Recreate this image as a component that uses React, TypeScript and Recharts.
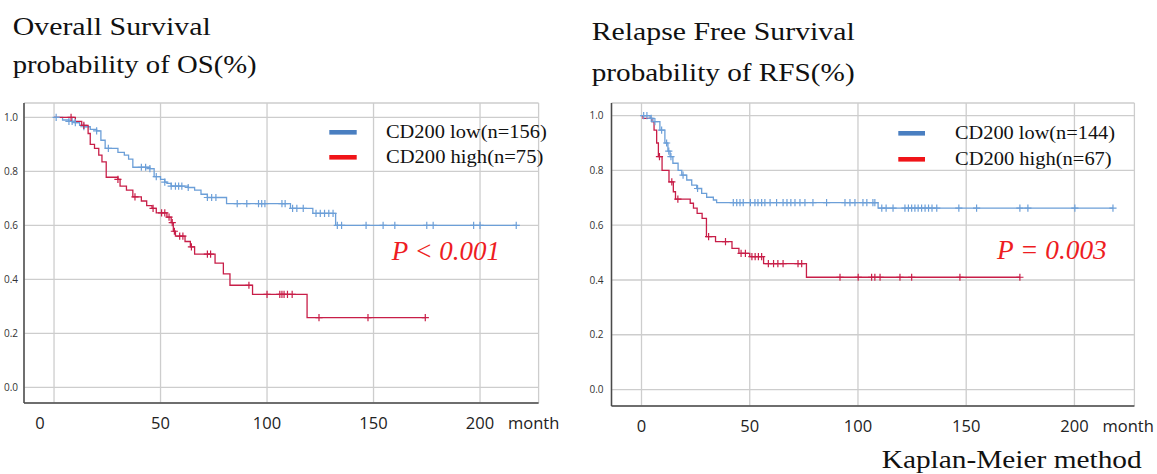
import React from 'react';
import { LineChart, Line, XAxis, YAxis, CartesianGrid } from 'recharts';

// ---- axis ticks ----
const X_TICKS = [0, 50, 100, 150, 200];
const Y_TICKS = [0, 0.2, 0.4, 0.6, 0.8, 1.0];

// ---- series: [month, survival, censored(1)/event(0)] ----
const OS_LOW: [number, number, number][] = [
  [0, 1, 0], [1, 1, 1], [4, 0.99, 0], [7, 0.985, 1], [8.5, 0.985, 1], [10, 0.98, 1], [12, 0.97, 0], [14, 0.965, 1],
  [17, 0.955, 0], [20, 0.95, 1], [22, 0.915, 0], [24, 0.885, 0], [25.5, 0.885, 1], [30, 0.87, 0], [33, 0.86, 0],
  [35, 0.845, 0], [37, 0.815, 0], [41, 0.815, 1], [43, 0.815, 1], [45, 0.81, 1], [47, 0.78, 0], [48, 0.78, 1],
  [50, 0.77, 0], [52, 0.76, 1], [53, 0.755, 0], [55, 0.745, 1], [57, 0.745, 1], [58.5, 0.745, 1], [60, 0.745, 1],
  [63, 0.74, 1], [66, 0.73, 0], [69, 0.715, 0], [72, 0.703, 1], [74, 0.703, 1], [76, 0.703, 1], [81, 0.68, 0],
  [86, 0.68, 1], [90.5, 0.68, 1], [96, 0.68, 1], [97.5, 0.68, 1], [99, 0.68, 1], [107, 0.68, 1], [108.5, 0.68, 1],
  [111, 0.663, 0], [112, 0.663, 1], [114, 0.663, 1], [117, 0.663, 1], [121.5, 0.644, 0], [123, 0.644, 1],
  [125, 0.644, 1], [127, 0.644, 1], [129, 0.644, 1], [131, 0.644, 1], [132.2, 0.6, 0], [133, 0.6, 1], [135, 0.6, 1],
  [146.5, 0.6, 1], [154.5, 0.6, 1], [160, 0.6, 1], [175, 0.6, 1], [178, 0.6, 1], [197, 0.6, 1], [200, 0.6, 1],
  [217, 0.6, 1],
];

const OS_HIGH: [number, number, number][] = [
  [0, 1, 0], [8, 1, 1], [10, 0.985, 0], [13, 0.97, 0], [14, 0.97, 1], [16, 0.94, 0], [17, 0.9, 0], [19, 0.885, 0],
  [21, 0.86, 0], [22.5, 0.835, 0], [24.5, 0.778, 0], [30, 0.77, 1], [31, 0.745, 0], [34, 0.73, 0], [37, 0.705, 0],
  [38, 0.705, 1], [41, 0.69, 0], [43.5, 0.673, 0], [46, 0.663, 0], [46.5, 0.663, 1], [48, 0.646, 0], [50.5, 0.646, 1],
  [52, 0.646, 1], [53, 0.63, 0], [54, 0.63, 1], [55, 0.61, 0], [55.5, 0.61, 1], [56, 0.578, 0], [56.5, 0.578, 1],
  [57, 0.56, 0], [59, 0.56, 1], [60.5, 0.56, 1], [61.5, 0.54, 0], [64, 0.52, 0], [64.5, 0.52, 1], [66, 0.493, 0],
  [72, 0.493, 1], [73.5, 0.493, 1], [75.6, 0.46, 0], [79.5, 0.42, 0], [82.6, 0.378, 0], [91.5, 0.378, 1],
  [93.2, 0.344, 0], [100, 0.344, 1], [106, 0.344, 1], [107, 0.344, 1], [108, 0.344, 1], [109.6, 0.344, 1],
  [111.8, 0.344, 1], [118.8, 0.258, 0], [124.4, 0.258, 1], [147.4, 0.258, 1], [174.3, 0.258, 1],
];

const RFS_LOW: [number, number, number][] = [
  [0, 1, 0], [1, 1, 1], [2.5, 1, 1], [4, 0.99, 0], [4.5, 0.99, 1], [5.3, 0.978, 0], [6.2, 0.978, 1], [8.5, 0.947, 0],
  [9.3, 0.947, 1], [10.8, 0.9, 0], [11.6, 0.9, 1], [12.2, 0.87, 0], [12.6, 0.87, 1], [13.2, 0.85, 0], [13.6, 0.85, 1],
  [14.5, 0.826, 0], [16.9, 0.8, 0], [18.6, 0.783, 0], [19.2, 0.783, 1], [20.9, 0.765, 0], [23.2, 0.746, 0],
  [25.5, 0.734, 0], [25.9, 0.734, 1], [27.8, 0.716, 0], [30.1, 0.702, 0], [33.2, 0.692, 0], [34.7, 0.682, 0],
  [42.4, 0.682, 1], [44, 0.682, 1], [45.5, 0.682, 1], [47, 0.682, 1], [50.3, 0.682, 1], [52.4, 0.682, 1],
  [53.8, 0.682, 1], [55.5, 0.682, 1], [57, 0.682, 1], [59.4, 0.682, 1], [62.4, 0.682, 1], [65.4, 0.682, 1],
  [67.2, 0.682, 1], [69, 0.682, 1], [70.9, 0.682, 1], [73.2, 0.682, 1], [75.5, 0.682, 1], [79.2, 0.682, 1],
  [85.5, 0.682, 1], [94, 0.682, 1], [96.3, 0.682, 1], [98.6, 0.682, 1], [102.3, 0.682, 1], [104.1, 0.682, 1],
  [106.9, 0.682, 1], [107.8, 0.682, 1], [109.3, 0.662, 0], [111, 0.662, 1], [113, 0.662, 1], [116.2, 0.662, 1],
  [121.7, 0.662, 1], [123.3, 0.662, 1], [124.8, 0.662, 1], [126.3, 0.662, 1], [127.8, 0.662, 1], [129.4, 0.662, 1],
  [131, 0.662, 1], [132.6, 0.662, 1], [134.2, 0.662, 1], [136.4, 0.662, 1], [146.6, 0.662, 1], [154.8, 0.662, 1],
  [174.8, 0.662, 1], [178.5, 0.662, 1], [200.2, 0.662, 1], [217.8, 0.662, 1],
];

const RFS_HIGH: [number, number, number][] = [
  [0, 1, 0], [0.7, 0.99, 0], [4.7, 0.978, 0], [5.8, 0.947, 0], [7, 0.9, 0], [7.8, 0.85, 0], [8.3, 0.85, 1],
  [9.5, 0.8, 0], [12.7, 0.758, 0], [14, 0.758, 1], [14.7, 0.722, 0], [15.7, 0.695, 0], [16.8, 0.695, 1],
  [22.5, 0.68, 0], [24, 0.662, 0], [25.7, 0.643, 0], [28, 0.625, 0], [30, 0.558, 0], [31, 0.558, 1], [34.2, 0.54, 0],
  [38.8, 0.54, 1], [41.8, 0.515, 0], [45, 0.497, 0], [46, 0.497, 1], [48, 0.497, 1], [50, 0.485, 0], [51, 0.485, 1],
  [52.5, 0.485, 1], [54, 0.485, 1], [55.5, 0.485, 1], [56.4, 0.46, 0], [58.6, 0.46, 1], [61, 0.46, 1], [63, 0.46, 1],
  [65.4, 0.46, 1], [72.3, 0.46, 1], [74, 0.46, 1], [76.2, 0.41, 0], [91.7, 0.41, 1], [100.1, 0.41, 1],
  [106.3, 0.41, 1], [107.8, 0.41, 1], [110.2, 0.41, 1], [119.4, 0.41, 1], [124.8, 0.41, 1], [147.1, 0.41, 1],
  [174.8, 0.41, 1],
];

const LEGEND_OS = ['CD200 low(n=156)', 'CD200 high(n=75)'];
const LEGEND_RFS = ['CD200 low(n=144)', 'CD200 high(n=67)'];

// ---- styles ----
const BLUE = '#6c9fd8';
const RED = '#c81e48';
const SW_BLUE = '#4a7fc1';
const SW_RED = '#f01418';
const P_RED = '#ee1c22';
const GRID = '#cdcdcd';
const AXIS = '#4a4a4a';
const SERIF = '"Liberation Serif", "Times New Roman", serif';
const SANS = '"Open Sans", "Noto Sans", sans-serif';

const toPts = (arr: [number, number, number][]) => arr.map(([t, s, c]) => ({ t, s, c }));

const censorDot = (color: string) => (props: any) => {
  const { cx, cy, payload, index } = props;
  if (!payload || !payload.c || cx == null || cy == null) return <g key={'n' + index} />;
  const h = 3.6;
  return (
    <path
      key={'c' + index}
      d={`M${cx - h},${cy}H${cx + h}M${cx},${cy - h}V${cy + h}`}
      stroke={color}
      strokeWidth={1.2}
      fill="none"
    />
  );
};

const makeXTick = (zeroShift: number) => (props: any) => {
  const { x, y, payload } = props;
  const v = payload.value;
  return (
    <g>
      <text x={x + (v === 0 ? zeroShift : 0)} y={y + 26} textAnchor="middle" fontFamily={SANS} fontSize={16.5} fill="#222">
        {v}
      </text>
      {v === 200 && (
        <text x={x + 28} y={y + 26} textAnchor="start" fontFamily={SANS} fontSize={16.5} fill="#222">
          month
        </text>
      )}
    </g>
  );
};

type KMProps = {
  left: number;
  width: number;
  yAxisWidth: number;
  marginRight: number;
  marginBottom: number;
  xDomain: [number, number];
  yDomain: [number, number];
  yTickMargin: number;
  zeroShift: number;
  low: [number, number, number][];
  high: [number, number, number][];
};

const KMChart = (p: KMProps) => (
  <div style={{ position: 'absolute', left: p.left, top: 0, width: p.width, height: 474 }}>
    <LineChart
      width={p.width}
      height={474}
      margin={{ top: 103, right: p.marginRight, left: 0, bottom: p.marginBottom }}
    >
      <CartesianGrid stroke={GRID} strokeWidth={1.3} />
      <XAxis
        type="number"
        dataKey="t"
        domain={p.xDomain}
        ticks={X_TICKS}
        allowDataOverflow
        height={30}
        tickLine={false}
        tickSize={0}
        tickMargin={0}
        axisLine={{ stroke: AXIS, strokeWidth: 1.5 }}
        tick={makeXTick(p.zeroShift)}
        interval={0}
      />
      <YAxis
        type="number"
        dataKey="s"
        domain={p.yDomain}
        ticks={Y_TICKS}
        allowDataOverflow
        width={p.yAxisWidth}
        tickLine={false}
        tickSize={0}
        tickMargin={p.yTickMargin}
        axisLine={{ stroke: AXIS, strokeWidth: 1.5 }}
        tick={{ fontSize: 10, fill: '#333', fontFamily: SANS }}
        tickFormatter={(v: number) => v.toFixed(1)}
        interval={0}
      />
      <Line
        data={toPts(p.low)}
        dataKey="s"
        type="stepAfter"
        stroke={BLUE}
        strokeWidth={1.3}
        dot={censorDot(BLUE)}
        activeDot={false}
        isAnimationActive={false}
      />
      <Line
        data={toPts(p.high)}
        dataKey="s"
        type="stepAfter"
        stroke={RED}
        strokeWidth={1.3}
        dot={censorDot(RED)}
        activeDot={false}
        isAnimationActive={false}
      />
    </LineChart>
  </div>
);

export default function App() {
  return (
    <div style={{ position: 'absolute', left: 0, top: 0, width: 1157, height: 474, background: '#fff', overflow: 'hidden' }}>
      <KMChart
        left={0}
        width={560}
        yAxisWidth={24}
        marginRight={21.4}
        marginBottom={41}
        xDomain={[-14.1, 227.5]}
        yDomain={[-0.058, 1.053]}
        yTickMargin={6}
        zeroShift={-14}
        low={OS_LOW}
        high={OS_HIGH}
      />
      <KMChart
        left={580}
        width={577}
        yAxisWidth={31.5}
        marginRight={22.6}
        marginBottom={38}
        xDomain={[-13.86, 227.7]}
        yDomain={[-0.06, 1.046]}
        yTickMargin={8}
        zeroShift={0}
        low={RFS_LOW}
        high={RFS_HIGH}
      />
      <svg width={1157} height={474} style={{ position: 'absolute', left: 0, top: 0, pointerEvents: 'none' }}>
        <g fontFamily={SERIF} fill="#111">
          <text x={12.7} y={35} fontSize={26} textLength={198} lengthAdjust="spacingAndGlyphs">Overall Survival</text>
          <text x={12.7} y={73} fontSize={26} textLength={244} lengthAdjust="spacingAndGlyphs">probability of OS(%)</text>
          <text x={591.7} y={40} fontSize={26} textLength={263} lengthAdjust="spacingAndGlyphs">Relapse Free Survival</text>
          <text x={591.7} y={81} fontSize={26} textLength={263} lengthAdjust="spacingAndGlyphs">probability of RFS(%)</text>
          <text x={881.7} y={468} fontSize={26} textLength={260} lengthAdjust="spacingAndGlyphs">Kaplan-Meier method</text>

          <rect x={329.3} y={130} width={27.4} height={4.6} fill={SW_BLUE} />
          <rect x={329.3} y={155} width={27.4} height={4.6} fill={SW_RED} />
          <text x={386} y={137.5} fontSize={19.5} textLength={160.7} lengthAdjust="spacingAndGlyphs">{LEGEND_OS[0]}</text>
          <text x={386} y={163.3} fontSize={19.5} textLength={157.3} lengthAdjust="spacingAndGlyphs">{LEGEND_OS[1]}</text>

          <rect x={898.3} y={131} width={26.7} height={4.6} fill={SW_BLUE} />
          <rect x={898.3} y={157} width={26.7} height={4.6} fill={SW_RED} />
          <text x={955} y={139.3} fontSize={19.5} textLength={160} lengthAdjust="spacingAndGlyphs">{LEGEND_RFS[0]}</text>
          <text x={955} y={165} fontSize={19.5} textLength={156.7} lengthAdjust="spacingAndGlyphs">{LEGEND_RFS[1]}</text>
        </g>
        <g fontFamily={SERIF} fill={P_RED} fontStyle="italic" fontSize={27}>
          <text x={391.7} y={260} textLength={108.3} lengthAdjust="spacingAndGlyphs">P &lt; 0.001</text>
          <text x={997} y={259.3} textLength={109.7} lengthAdjust="spacingAndGlyphs">P = 0.003</text>
        </g>
      </svg>
    </div>
  );
}
